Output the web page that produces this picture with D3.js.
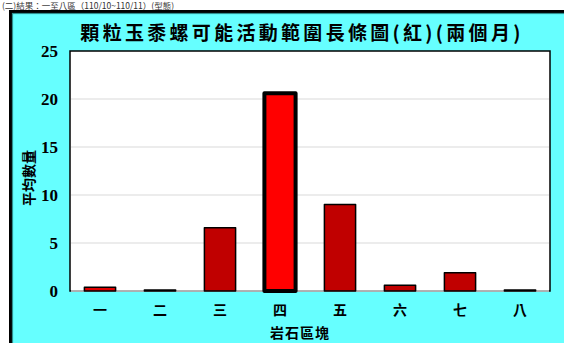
<!DOCTYPE html>
<html>
<head>
<meta charset="utf-8">
<script src="https://cdn.jsdelivr.net/npm/d3@7"></script>
<style>
  html, body { margin: 0; padding: 0; background: #ffffff; }
  svg { display: block; }
</style>
</head>
<body>
<svg id="chart" width="564" height="343"></svg>
<script>
// Rock blocks and mean counts
const categories = ["一", "二", "三", "四", "五", "六", "七", "八"];
const values = [0.4, 0.1, 6.6, 20.6, 9.0, 0.6, 1.9, 0.1];
const yTicks = [0, 5, 10, 15, 20, 25];
const title = "顆粒玉黍螺可能活動範圍長條圖(紅)(兩個月)";
const yTitle = "平均數量";
const xTitle = "岩石區塊";
const highlight = "四";
const pinkBlock = "一";

const svg = d3.select("#chart");
const W = 564, H = 343;
const cjk = "'Noto Sans CJK TC', 'Noto Sans CJK SC', sans-serif";

// Caption line above the frame
svg.append("text")
  .attr("x", 2).attr("y", 9)
  .attr("font-family", cjk).attr("font-size", 8.5)
  .attr("fill", "#333")
  .text("(二)結果：一至八區（110/10~110/11）(型態)");

// Frame
svg.append("rect")
  .attr("x", 10.5).attr("y", 11.5).attr("width", W).attr("height", H)
  .attr("fill", "#66ffff").attr("stroke", "#000").attr("stroke-width", 3);
svg.append("rect")
  .attr("x", 12.5).attr("y", 13.5).attr("width", W).attr("height", H)
  .attr("fill", "none").attr("stroke", "#2f8f8f").attr("stroke-width", 1.2);

const plot = { left: 70, right: 550, top: 51, bottom: 291 };

const x = d3.scaleBand().domain(categories)
  .range([plot.left, plot.right]).paddingInner(0.48).paddingOuter(0.24);
const y = d3.scaleLinear().domain([0, 25]).range([plot.bottom, plot.top]);

// Plot area
svg.append("rect")
  .attr("x", plot.left).attr("y", plot.top)
  .attr("width", plot.right - plot.left).attr("height", plot.bottom - plot.top)
  .attr("fill", "#fff").attr("stroke", "#000").attr("stroke-width", 1.5);

// Gridlines
svg.append("g").selectAll("line").data(yTicks.filter(t => t > 0 && t < 25)).join("line")
  .attr("x1", plot.left + 1).attr("x2", plot.right - 1)
  .attr("y1", d => y(d)).attr("y2", d => y(d))
  .attr("stroke", "#d9d9d9").attr("stroke-width", 1.2);
svg.append("line")
  .attr("x1", plot.left + 1).attr("x2", plot.right - 1)
  .attr("y1", y(0)).attr("y2", y(0))
  .attr("stroke", "#d9d9d9").attr("stroke-width", 1.5);

// Bars
svg.append("g").selectAll("rect").data(categories.map((c, i) => ({ c, v: values[i] }))).join("rect")
  .attr("x", d => x(d.c)).attr("width", x.bandwidth())
  .attr("y", d => y(d.v)).attr("height", d => y(0) - y(d.v))
  .attr("fill", d => d.c === highlight ? "#ff0000" : (d.c === pinkBlock ? "#e00000" : "#c00000"))
  .attr("stroke", "#000")
  .attr("stroke-width", d => d.c === highlight ? 4 : 1.5)
  .attr("stroke-linejoin", "round");

// Y axis labels
const yAxis = d3.axisLeft(y).tickValues(yTicks).tickSize(0).tickPadding(12);
const gy = svg.append("g").attr("transform", `translate(${plot.left},0)`).call(yAxis);
gy.select(".domain").remove();
gy.selectAll("text")
  .attr("font-family", "'Liberation Serif', 'Times New Roman', serif")
  .attr("font-weight", "bold").attr("font-size", 17).attr("fill", "#000");

// X axis labels
const xAxis = d3.axisBottom(x).tickSize(0).tickPadding(14);
const gx = svg.append("g").attr("transform", `translate(0,${plot.bottom})`).call(xAxis);
gx.select(".domain").remove();
gx.selectAll("text")
  .attr("font-family", cjk).attr("font-weight", "bold")
  .attr("font-size", 14).attr("fill", "#000");

// Titles
svg.append("text")
  .attr("x", 302).attr("y", 40).attr("text-anchor", "middle")
  .attr("font-family", cjk).attr("font-weight", "bold").attr("font-size", 19)
  .attr("letter-spacing", 3.3)
  .attr("fill", "#000")
  .text(title);

svg.append("text")
  .attr("x", 300).attr("y", 338).attr("text-anchor", "middle")
  .attr("font-family", cjk).attr("font-weight", "bold").attr("font-size", 14)
  .attr("letter-spacing", 1)
  .attr("fill", "#000")
  .text(xTitle);

svg.append("text")
  .attr("transform", "translate(34,178) rotate(-90)")
  .attr("text-anchor", "middle")
  .attr("font-family", cjk).attr("font-weight", "bold").attr("font-size", 14)
  .attr("fill", "#000")
  .text(yTitle);
</script>
</body>
</html>
